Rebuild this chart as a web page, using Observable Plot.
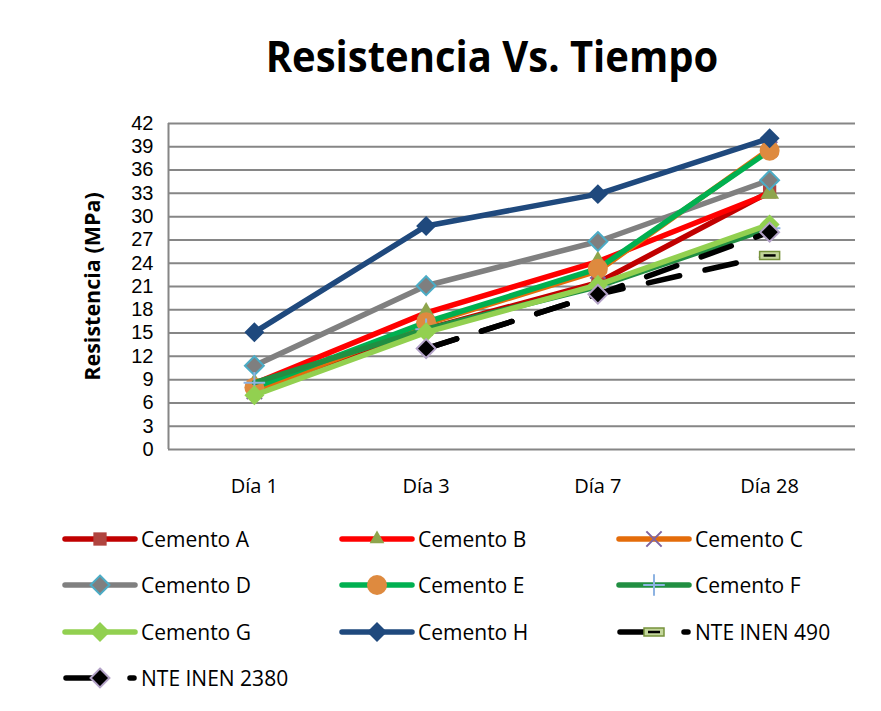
<!DOCTYPE html>
<html>
<head>
<meta charset="utf-8">
<script src="https://cdn.jsdelivr.net/npm/d3@7"></script>
<script src="https://cdn.jsdelivr.net/npm/@observablehq/plot@0.6"></script>
<style>
  html, body { margin: 0; padding: 0; background: #fff; }
  #wrap { position: relative; width: 881px; height: 711px; background: #fff; font-family: "Open Sans", sans-serif; overflow: hidden; }
  #title { position: absolute; left: 0; top: 28px; width: 984px; text-align: center; font-size: 43px; font-weight: bold; color: #000; line-height: 1.3; white-space: nowrap; transform: scaleX(0.93); transform-origin: 492px 0; }
  #chart { position: absolute; left: 0; top: 100px; }
  #legend { position: absolute; left: 0; top: 0; width: 881px; height: 711px; pointer-events: none; }
  .item { position: absolute; display: flex; align-items: center; font-size: 21px; color: #000; white-space: nowrap; }
  .item svg { display: block; margin-right: 3px; }
</style>
</head>
<body>
<div id="wrap">
  <div id="title">Resistencia Vs. Tiempo</div>
  <div id="chart"></div>
  <div id="legend"></div>
</div>
<script>
// ---- data ----
const dias = ["Día 1", "Día 3", "Día 7", "Día 28"];
const cementoA = [7.5, 15.5, 21.5, 33.2];
const cementoB = [8.5, 17.6, 24.2, 33.0];
const cementoC = [7.5, 16.2, 23.0, 38.7];
const cementoD = [10.8, 21.1, 26.8, 34.7];
const cementoE = [8.0, 16.4, 23.3, 38.5];
const cementoF = [8.6, 15.5, 21.0, 28.5];
const cementoG = [7.0, 15.1, 21.2, 29.0];
const cementoH = [15.1, 28.8, 32.9, 40.1];
const nte490 = [null, 13, 20, 25];
const nte2380 = [null, 13, 20, 28];
const yTicks = [0, 3, 6, 9, 12, 15, 18, 21, 24, 27, 30, 33, 36, 39, 42];
const yLabel = "Resistencia (MPa)";

// ---- styles ----
const rectSym = { draw(ctx) { ctx.rect(-10, -4, 20, 8); } };
const dashSym = { draw(ctx) { ctx.moveTo(-6, 0); ctx.lineTo(6, 0); } };

const series = [
  { name: "Cemento A", values: cementoA, color: "#C00000", markers: [{ symbol: "square", r: 7.5, fill: "#B0443F" }] },
  { name: "Cemento B", values: cementoB, color: "#FF0000", markers: [{ symbol: "triangle", r: 7, fill: "#8EA54C" }] },
  { name: "Cemento C", values: cementoC, color: "#E46C0A", markers: [{ symbol: "times", r: 7, fill: "none", stroke: "#7E64A1", strokeWidth: 2 }] },
  { name: "Cemento D", values: cementoD, color: "#808080", markers: [{ symbol: "diamond2", r: 8.5, fill: "#7F7F7F", stroke: "#4BACC6", strokeWidth: 2 }] },
  { name: "Cemento E", values: cementoE, color: "#00B050", markers: [{ symbol: "circle", r: 10, fill: "#DE8A3F" }] },
  { name: "Cemento F", values: cementoF, color: "#218F42", markers: [{ symbol: "plus", r: 7, fill: "none", stroke: "#8DB3E2", strokeWidth: 2 }] },
  { name: "Cemento G", values: cementoG, color: "#92D050", markers: [{ symbol: "diamond2", r: 9, fill: "#92D050" }] },
  { name: "Cemento H", values: cementoH, color: "#1F497D", markers: [{ symbol: "diamond2", r: 9, fill: "#1F497D" }] },
  { name: "NTE INEN 490", values: nte490, color: "#000000", dash: "32 26", lastMarkerOnly: true, markers: [
      { symbol: rectSym, r: 5, fill: "#C3D69B", stroke: "#77933C", strokeWidth: 1.5 },
      { symbol: dashSym, r: 5, fill: "none", stroke: "#000", strokeWidth: 2.5 }] },
  { name: "NTE INEN 2380", values: nte2380, color: "#000000", dash: "32 26", markers: [{ symbol: "diamond2", r: 8.5, fill: "#000000", stroke: "#B3A2C7", strokeWidth: 2 }] }
];

const marks = [
  Plot.gridY(yTicks, { stroke: "#868686", strokeOpacity: 1, strokeWidth: 2 }),
  Plot.ruleX([-0.5], { stroke: "#868686", strokeWidth: 2 }),
  Plot.axisY(yTicks, { tickSize: 0, tickPadding: 15, fontSize: 20, fontFamily: "Liberation Sans, Arial, sans-serif", label: null }),
  Plot.axisX([0, 1, 2, 3], { tickSize: 0, tickPadding: 29, fontSize: 20, label: null, tickFormat: i => dias[i] }),
  Plot.text([yLabel], { frameAnchor: "left", textAnchor: "middle", rotate: -90, dx: -75, fontSize: 21.5, fontWeight: "bold", fill: "#000" })
];

for (const s of series) {
  const pts = s.values.map((v, i) => ({ i, v })).filter(d => d.v != null);
  const mpts = s.lastMarkerOnly ? pts.slice(-1) : pts;
  marks.push(Plot.line(pts, { x: "i", y: "v", stroke: s.color, strokeWidth: 5.5, strokeDasharray: s.dash, strokeLinecap: "round", strokeLinejoin: "round" }));
  for (const m of s.markers) {
    marks.push(Plot.dot(mpts, { x: "i", y: "v", symbol: () => m.symbol, r: m.r, fill: m.fill, stroke: m.stroke || "none", strokeWidth: m.strokeWidth || 1 }));
  }
}

const chart = Plot.plot({
  width: 881,
  height: 410,
  marginLeft: 168,
  marginRight: 26,
  marginTop: 23,
  marginBottom: 61,
  style: { fontFamily: "Open Sans, sans-serif", fontSize: "20px", color: "#000", background: "#fff", overflow: "visible" },
  x: { type: "linear", domain: [-0.5, 3.5], axis: null },
  y: { type: "linear", domain: [0, 42], axis: null },
  symbol: { type: "identity" },
  marks
});
document.getElementById("chart").appendChild(chart);

// ---- legend ----
const symbolMap = {
  square: d3.symbolSquare, triangle: d3.symbolTriangle2, times: d3.symbolTimes,
  diamond2: d3.symbolDiamond2, circle: d3.symbolCircle, plus: d3.symbolPlus
};
const legend = d3.select("#legend");
const colX = [62, 339, 616];
const rowY = [539, 585, 632, 678];
series.forEach((s, k) => {
  const item = legend.append("div").attr("class", "item")
    .style("left", colX[k % 3] + "px")
    .style("top", (rowY[Math.floor(k / 3)] - 15) + "px")
    .style("height", "30px");
  const svg = item.append("svg").attr("width", 76).attr("height", 30);
  if (s.dash) {
    svg.append("line").attr("x1", 4).attr("x2", 72).attr("y1", 15).attr("y2", 15)
      .attr("stroke", s.color).attr("stroke-width", 5.5).attr("stroke-linecap", "round")
      .attr("stroke-dasharray", "36 28");
  } else {
    svg.append("line").attr("x1", 3).attr("x2", 73).attr("y1", 15).attr("y2", 15)
      .attr("stroke", s.color).attr("stroke-width", 5.5).attr("stroke-linecap", "round");
  }
  for (const m of s.markers) {
    const type = typeof m.symbol === "string" ? symbolMap[m.symbol] : m.symbol;
    svg.append("path").attr("transform", "translate(38,15)")
      .attr("d", d3.symbol(type, Math.PI * m.r * m.r)())
      .attr("fill", m.fill).attr("stroke", m.stroke || "none").attr("stroke-width", m.strokeWidth || 1);
  }
  item.append("span").text(s.name);
});
</script>
</body>
</html>
